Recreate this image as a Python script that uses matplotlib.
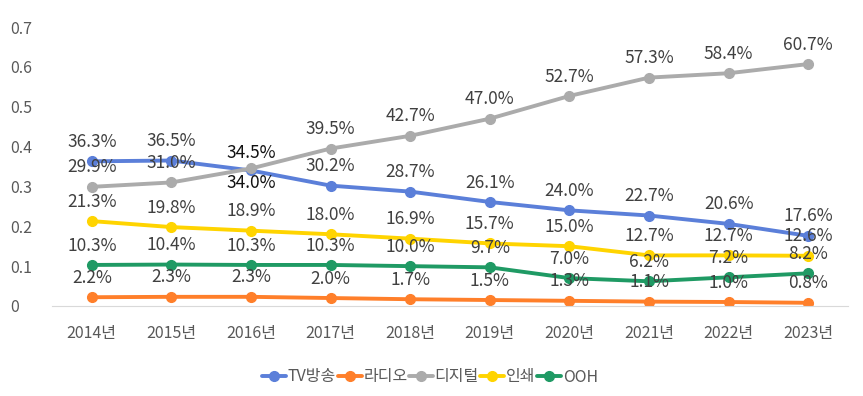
import matplotlib
matplotlib.use("Agg")
import matplotlib.pyplot as plt

plt.rcParams['font.family'] = ['Noto Sans CJK KR', 'DejaVu Sans']

years = ["2014년", "2015년", "2016년", "2017년", "2018년", "2019년", "2020년", "2021년", "2022년", "2023년"]
tv = [36.3, 36.5, 34.0, 30.2, 28.7, 26.1, 24.0, 22.7, 20.6, 17.6]
radio = [2.2, 2.3, 2.3, 2.0, 1.7, 1.5, 1.3, 1.1, 1.0, 0.8]
digital = [29.9, 31.0, 34.5, 39.5, 42.7, 47.0, 52.7, 57.3, 58.4, 60.7]
printed = [21.3, 19.8, 18.9, 18.0, 16.9, 15.7, 15.0, 12.7, 12.7, 12.6]
ooh = [10.3, 10.4, 10.3, 10.3, 10.0, 9.7, 7.0, 6.2, 7.2, 8.2]
names = ["TV방송", "라디오", "디지털", "인쇄", "OOH"]
colors = ["#5b7fd9", "#ff7f2a", "#ababab", "#ffd400", "#1f9a64"]

fig = plt.figure(figsize=(8.63, 3.96), dpi=100)
ax = fig.add_axes([52/863, 90/396, 796/863, 279/396])
x = list(range(len(years)))
series = [tv, radio, digital, printed, ooh]
for name, vals, c in zip(names, series, colors):
    y = [v / 100 for v in vals]
    ax.plot(x, y, color=c, lw=2.8, marker="o", ms=7, label=name, solid_capstyle="round")

# data labels
for si, vals in enumerate(series):
    for i, v in enumerate(vals):
        dy = 14
        col = "#404040"
        if i == 2 and si == 0:
            dy = -9
            col = "#111111"
        if i == 2 and si == 2:
            dy = 11
            col = "#111111"
        ax.annotate(f"{v:.1f}%", (i, v / 100), xytext=(0, dy), textcoords="offset points",
                    ha="center", va="center", fontsize=12.5, color=col, fontweight="light")

ax.set_xlim(-0.5, 9.5)
ax.set_ylim(0, 0.7)
ax.set_yticks([0, 0.1, 0.2, 0.3, 0.4, 0.5, 0.6, 0.7])
ax.set_yticklabels(["0", "0.1", "0.2", "0.3", "0.4", "0.5", "0.6", "0.7"], ha="left")
ax.set_xticks(x)
ax.set_xticklabels(years)
ax.tick_params(axis="y", length=0, pad=30, labelsize=11.5, labelcolor="#595959")
ax.tick_params(axis="x", length=0, pad=14, labelsize=11.5, labelcolor="#595959")
for s in ["top", "right", "left"]:
    ax.spines[s].set_visible(False)
ax.spines["bottom"].set_color("#d9d9d9")

fig.legend(loc="center", bbox_to_anchor=(430/863, 1 - 377/396), ncol=5, frameon=False,
           fontsize=11.5, handlelength=1.5, handletextpad=0.1, columnspacing=0.1, labelcolor="#595959")

fig.savefig("out.png", dpi=100, facecolor="white")
